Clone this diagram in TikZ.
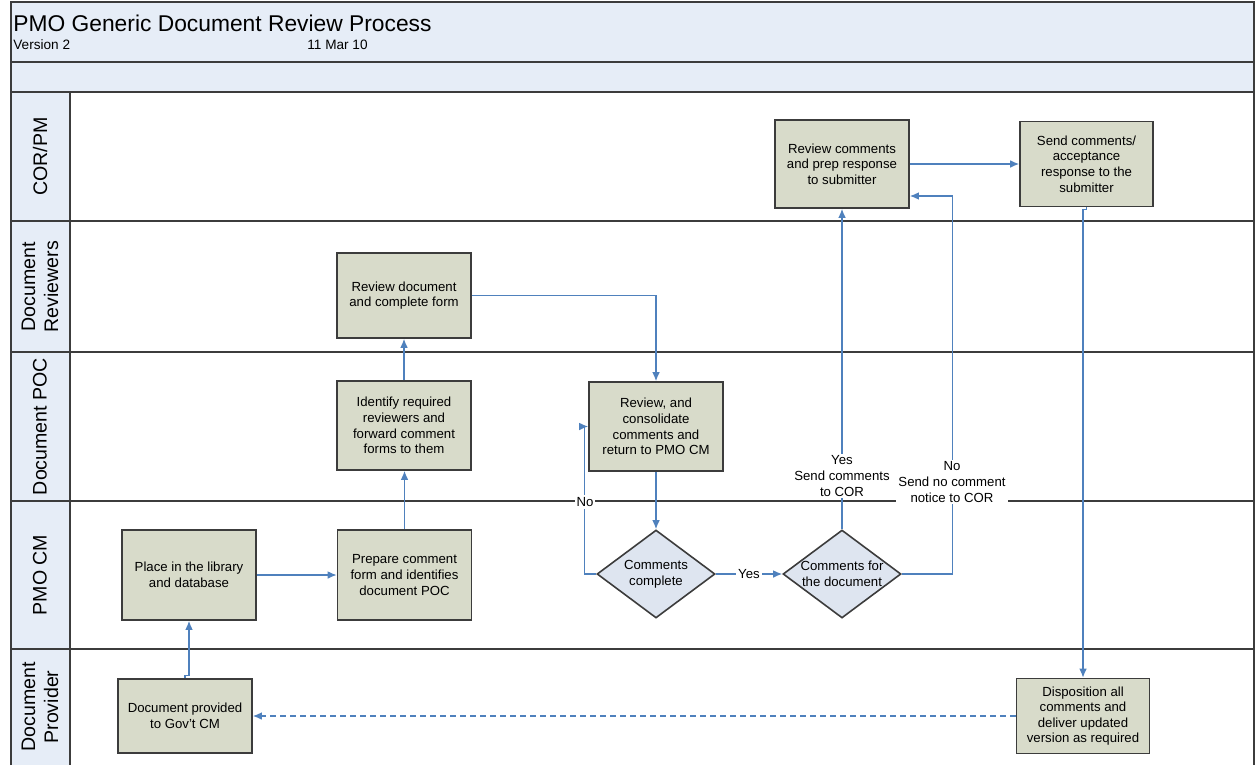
\documentclass[tikz,border=0pt]{standalone}
\usepackage{fontspec}
\setmainfont{Liberation Sans}
\usetikzlibrary{arrows.meta,shapes.geometric}
\definecolor{hdrfill}{RGB}{230,237,247}
\definecolor{boxfill}{RGB}{216,219,202}
\definecolor{decfill}{RGB}{222,229,240}
\definecolor{edge}{RGB}{60,60,60}
\definecolor{flow}{RGB}{79,129,189}
\begin{document}
\begin{tikzpicture}[x=0.5pt,y=-0.5pt,
  proc/.style={rectangle,draw=edge,fill=boxfill,line width=0.8pt,minimum width=67pt,inner sep=0pt,align=center,font=\fontsize{6.6}{7.8}\selectfont},
  dec/.style={diamond,aspect=1.34,draw=edge,fill=decfill,line width=0.8pt,minimum width=59pt,minimum height=44pt,inner sep=0pt,align=center,font=\fontsize{6.6}{7.8}\selectfont},
  flowline/.style={draw=flow,line width=0.65pt,-{Latex[length=4.5pt,width=3.8pt]}},
  lbl/.style={fill=white,inner sep=1pt,align=center,font=\fontsize{6.6}{7.8}\selectfont},
  lane/.style={draw=edge,line width=1.1pt},
  lanetext/.style={rotate=90,align=center,font=\fontsize{9.8}{11.4}\selectfont}]
\useasboundingbox (0,0) rectangle (1256,765);
% header
\fill[hdrfill] (11,2) rectangle (1254,92);
\fill[hdrfill] (11,92) rectangle (70,765);
\draw[lane] (11,765) -- (11,2) -- (1254,2) -- (1254,765);
\draw[lane] (11,62) -- (1254,62);
\draw[lane] (70,92) -- (70,765);
\foreach \yy in {92,221,352,501,649} \draw[lane] (11,\yy) -- (1254,\yy);
\node[anchor=base west,font=\fontsize{11.4}{13}\selectfont,inner sep=0pt] (title) at (13,32) {PMO Generic Document Review Process};
\node[anchor=base west,font=\fontsize{6.8}{8}\selectfont,inner sep=0pt] (ver) at (13,50) {Version 2};
\node[anchor=base west,font=\fontsize{6.8}{8}\selectfont,inner sep=0pt] (date) at (307,50) {11 Mar 10};
% lane labels
\node[lanetext] (l1) at (40,156.5) {COR/PM};
\node[lanetext] (l2) at (40,286.5) {Document\\Reviewers};
\node[lanetext] (l3) at (40,426.5) {Document POC};
\node[lanetext] (l4) at (40,575) {PMO CM};
\node[lanetext] (l5) at (40,707) {Document\\Provider};
% process boxes
\node[proc,minimum height=45pt] (b1) at (189,575) {Place in the library\\and database};
\node[proc,minimum height=45pt] (b2) at (404.5,575) {Prepare comment\\form and identifies\\document POC};
\node[proc,minimum height=37pt] (b3) at (185,716) {Document provided\\to Gov't CM};
\node[proc,minimum height=44.5pt] (b4) at (404,425.5) {Identify required\\reviewers and\\forward comment\\forms to them};
\node[proc,minimum height=42.5pt] (b5) at (404,295.5) {Review document\\and complete form};
\node[proc,minimum height=44.5pt] (b6) at (656,426.5) {Review, and\\consolidate\\comments and\\return to PMO CM};
\node[proc,minimum height=44pt] (b7) at (842,164) {Review comments\\and prep response\\to submitter};
\node[proc,minimum height=42.5pt,minimum width=66.5pt] (b8) at (1086.5,164) {Send comments/\\acceptance\\response to the\\submitter};
\node[proc,minimum height=37.5pt,minimum width=66.5pt] (b9) at (1083,716) {Disposition all\\comments and\\deliver updated\\version as required};
\node[dec] (d1) at (656,574) {Comments\\complete};
\node[dec] (d2) at (842,574) {Comments for\\the document};
% connectors
\draw[flowline] (b3.north) -- ++(0,-3) -| (b1.south);
\draw[flowline] (b1.east) -- (b2.west);
\draw[flowline] (b2.north) -- (b2.north |- b4.south);
\draw[flowline] (b4.north) -- (b5.south);
\draw[flowline] (b5.east) -| (b6.north);
\draw[flowline] (b6.south) -- (d1.north);
\draw[flowline] (d1.west) -- ++(-12,0) |- (b6.west);
\draw[flowline] (d1.east) -- node[lbl] (yes1) {Yes} (d2.west);
\draw[flowline] (d2.north) -- (d2.north |- b7.south);
\draw[flowline] (d2.east) -- ++(51,0) |- ([yshift=-16pt]b7.east);
\draw[flowline] (b7.east) -- (b7.east -| b8.west);
\draw[flowline] (b8.south) -- ++(0,2) -| (b9.north);
\draw[flowline,dashed,dash pattern=on 3pt off 2pt] (b9.west) -- (b3.east);
% connector labels
\node[lbl] (no1) at (585,502) {No};
\node[lbl] (yes2) at (842,476) {Yes\\Send comments\\to COR};
\node[lbl] (no2) at (952,482) {No\\Send no comment\\notice to COR};
\end{tikzpicture}
\end{document}
